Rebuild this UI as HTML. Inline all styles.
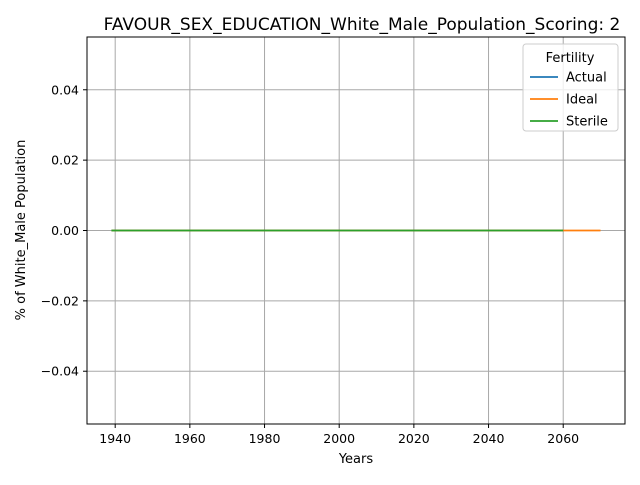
<!DOCTYPE html>
<html><head><meta charset="utf-8"><style>
body{margin:0;background:#fff;}
svg text{font-family:"DejaVu Sans","Liberation Sans",sans-serif;fill:#000;}
</style></head><body>
<svg id="chart" width="640" height="480" xmlns="http://www.w3.org/2000/svg">
<rect width="640" height="480" fill="#fff"/>
<g id="grid"></g>
<g id="series"></g>
<rect x="87" y="37" width="538" height="387" fill="none" stroke="#000" stroke-width="1"/>
<g id="ticks"></g>
<text x="362" y="30" font-size="17" text-anchor="middle">FAVOUR_SEX_EDUCATION_White_Male_Population_Scoring: 2</text>
<text x="356" y="463" font-size="13" text-anchor="middle">Years</text>
<text transform="translate(25,230) rotate(-90)" font-size="13" text-anchor="middle">% of White_Male Population</text>
<g id="legend">
<rect x="523" y="44" width="95" height="87" rx="3" fill="#fff" fill-opacity="0.8" stroke="#ccc"/>
<text x="570" y="62" font-size="13" text-anchor="middle">Fertility</text>
</g>
</svg>
<script>
const years = [1939, 2060];
const idealYears = [1939, 2070];
const actualValues = [0, 0];
const idealValues = [0, 0];
const sterileValues = [0, 0];
const xTicks = [1940, 1960, 1980, 2000, 2020, 2040, 2060];
const yTicks = [-0.04, -0.02, 0.00, 0.02, 0.04];
const yTickLabels = ["\u22120.04", "\u22120.02", "0.00", "0.02", "0.04"];
const seriesNames = ["Actual", "Ideal", "Sterile"];

const L=87,R=625,T=37,B=424, x0=1932.45,x1=2076.55, y0=-0.055,y1=0.055;
const sx=v=>L+(v-x0)/(x1-x0)*(R-L);
const sy=v=>B-(v-y0)/(y1-y0)*(B-T);
const NS="http://www.w3.org/2000/svg";
function mk(tag,attrs,parent){const e=document.createElementNS(NS,tag);for(const k in attrs)e.setAttribute(k,attrs[k]);parent.appendChild(e);return e;}
const grid=document.getElementById('grid'),ticks=document.getElementById('ticks'),ser=document.getElementById('series'),leg=document.getElementById('legend');
xTicks.forEach(t=>{
 const X=sx(t);
 const g=mk('line',{x1:X,x2:X,y1:T,y2:B,stroke:'#a8a8a8','stroke-width':1},grid);
 
 
 mk('line',{x1:X,x2:X,y1:B,y2:B+4,stroke:'#000','stroke-width':1},ticks);
 const tx=mk('text',{x:X,y:B+19,'font-size':12.5,'text-anchor':'middle'},ticks);
 tx.textContent=t;
 
 
});
yTicks.forEach((t,i)=>{
 const Y=sy(t);
 const g=mk('line',{x1:L,x2:R,y1:Y,y2:Y,stroke:'#a8a8a8','stroke-width':1},grid);
 
 
 mk('line',{x1:L-4,x2:L,y1:Y,y2:Y,stroke:'#000','stroke-width':1},ticks);
 const tx=mk('text',{x:L-8,y:Y+4.5,'font-size':12.5,'text-anchor':'end'},ticks);
 tx.textContent=yTickLabels[i];
 
 
});
const colors=['#1f77b4','#ff7f0e','#2ca02c'];
const xs=[years,idealYears,years], ys=[actualValues,idealValues,sterileValues];
seriesNames.forEach((n,i)=>{
 const pts=xs[i].map((v,j)=>sx(v)+','+sy(ys[i][j])).join(' ');
 const p=mk('polyline',{points:pts,fill:'none',stroke:colors[i],'stroke-width':1.8},ser);
 
 
 const ly=77+i*22;
 const ll=mk('line',{x1:530,x2:558,y1:ly,y2:ly,stroke:colors[i],'stroke-width':1.8},leg);
 
 
 const lt=mk('text',{x:566,y:ly+4.5,'font-size':13},leg);
 lt.textContent=n;
 
 
});
</script>
</body></html>
